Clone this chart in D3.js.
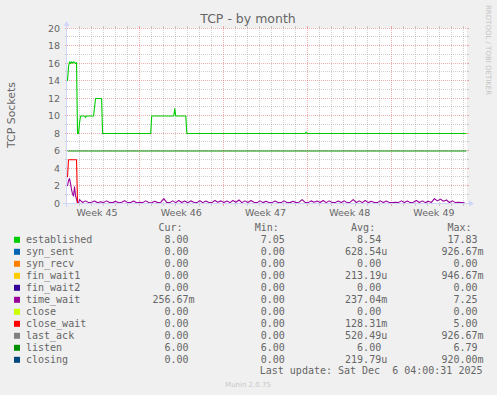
<!DOCTYPE html>
<html>
<head>
<meta charset="utf-8">
<script src="https://cdn.jsdelivr.net/npm/d3@7"></script>
<style>
  body { margin: 0; background: #f0f0f0; }
  svg text { font-family: "DejaVu Sans", sans-serif; fill: #666666; }
  svg text.mono { font-family: "DejaVu Sans Mono", monospace; font-size: 10px; white-space: pre; }
</style>
</head>
<body>
<svg id="chart" width="497" height="395"></svg>
<script>
// legend rows, munin order
var seriesNames = ["established", "syn_sent", "syn_recv", "fin_wait1", "fin_wait2", "time_wait", "close", "close_wait", "last_ack", "listen", "closing"];
var seriesColors = ["#00CC00", "#0066B3", "#FF8000", "#FFCC00", "#330099", "#990099", "#CCFF00", "#FF0000", "#808080", "#008F00", "#00487D"];
var curValues = ["8.00", "0.00", "0.00", "0.00", "0.00", "256.67m", "0.00", "0.00", "0.00", "6.00", "0.00"];
var minValues = ["7.05", "0.00", "0.00", "0.00", "0.00", "0.00", "0.00", "0.00", "0.00", "6.00", "0.00"];
var avgValues = ["8.54", "628.54u", "0.00", "213.19u", "0.00", "237.04m", "0.00", "128.31m", "520.49u", "6.00", "219.79u"];
var maxValues = ["17.83", "926.67m", "0.00", "946.67m", "0.00", "7.25", "0.00", "5.00", "926.67m", "6.79", "920.00m"];
var columnHeads = ["Cur:", "Min:", "Avg:", "Max:"];

// axes
var yTickValues = [0, 2, 4, 6, 8, 10, 12, 14, 16, 18, 20];
var weekLabels = ["Week 45", "Week 46", "Week 47", "Week 48", "Week 49"];
var weekLabelTimes = ["2025-11-05T12:00Z", "2025-11-12T12:00Z", "2025-11-19T12:00Z", "2025-11-26T12:00Z", "2025-12-03T12:00Z"];
var graphStart = "2025-11-03T00:00Z";
var graphEnd = "2025-12-06T06:00Z";
var lastUpdate = "2025-12-06T04:00Z";

// series: [time, value]
var establishedPoints = [
  ["2025-11-03T00:00Z", 14.0], ["2025-11-03T02:00Z", 15.6], ["2025-11-03T04:00Z", 16.2],
  ["2025-11-03T06:00Z", 16.0], ["2025-11-03T08:00Z", 16.2], ["2025-11-03T10:00Z", 16.05],
  ["2025-11-03T12:00Z", 16.2], ["2025-11-03T14:00Z", 16.1], ["2025-11-03T16:00Z", 16.0],
  ["2025-11-03T18:00Z", 16.1], ["2025-11-03T20:00Z", 8.0], ["2025-11-03T22:00Z", 8.0],
  ["2025-11-04T00:00Z", 9.2], ["2025-11-04T02:00Z", 10.0], ["2025-11-04T10:00Z", 10.0],
  ["2025-11-04T12:00Z", 9.85], ["2025-11-04T14:00Z", 10.0], ["2025-11-05T04:00Z", 10.0],
  ["2025-11-05T08:00Z", 12.0], ["2025-11-05T20:00Z", 12.0], ["2025-11-05T22:00Z", 8.0],
  ["2025-11-09T22:00Z", 8.0], ["2025-11-10T00:00Z", 10.0], ["2025-11-11T20:00Z", 10.0],
  ["2025-11-11T22:00Z", 10.85], ["2025-11-12T00:00Z", 10.0], ["2025-11-12T20:00Z", 10.0],
  ["2025-11-12T22:00Z", 8.0], ["2025-11-22T18:00Z", 8.0], ["2025-11-22T20:00Z", 8.15],
  ["2025-11-22T22:00Z", 8.0], ["2025-12-06T04:00Z", 8.0]
];
var listenPoints = [["2025-11-03T00:00Z", 6.0], ["2025-12-06T04:00Z", 6.0]];
var closeWaitPoints = [
  ["2025-11-03T00:00Z", 3.0], ["2025-11-03T02:00Z", 5.0], ["2025-11-03T18:00Z", 5.0],
  ["2025-11-03T20:00Z", 0.0], ["2025-12-06T04:00Z", 0.0]
];
var zeroPoints = [["2025-11-03T00:00Z", 0], ["2025-12-06T04:00Z", 0]];

// time_wait: 2h samples on Nov 3, then 6h samples from Nov 4
var timeWaitHeadStart = "2025-11-03T00:00Z";
var timeWaitHead = [2.0, 2.6, 2.85, 2.3, 1.6, 1.1, 0.85, 1.9, 0.9, 0.5, 0.0, 0.08];
var timeWaitTailStart = "2025-11-04T00:00Z";
var timeWaitTail = [
  0.45, 0.12, 0.30, 0.10,  0.15, 0.28, 0.08, 0.20,  0.10, 0.30, 0.12, 0.10,
  0.25, 0.08, 0.15, 0.32,  0.10, 0.12, 0.28, 0.08,  0.15, 0.10, 0.30, 0.12,
  0.08, 0.25, 0.10, 0.14,  0.55, 0.12, 0.10, 0.30,  0.10, 0.35, 0.12, 0.28,
  0.08, 0.30, 0.15, 0.10,  0.32, 0.10, 0.28, 0.12,  0.10, 0.35, 0.15, 0.30,
  0.12, 0.28, 0.10, 0.35,  0.15, 0.40, 0.10, 0.30,  0.12, 0.35, 0.15, 0.10,
  0.30, 0.10, 0.25, 0.12,  0.10, 0.28, 0.12, 0.10,  0.30, 0.12, 0.10, 0.25,
  0.10, 0.15, 0.45, 0.12,  0.10, 0.30, 0.15, 0.28,  0.12, 0.35, 0.10, 0.30,
  0.12, 0.10, 0.28, 0.12,  0.30, 0.10, 0.15, 0.45,  0.12, 0.30, 0.10, 0.35,
  0.10, 0.25, 0.12, 0.10,  0.30, 0.12, 0.28, 0.10,  0.12, 0.15, 0.10, 0.30,
  0.12, 0.28, 0.10, 0.15,  0.35, 0.12, 0.30, 0.10,  0.25, 0.12, 0.55, 0.30,
  0.50, 0.25, 0.40, 0.12,  0.30, 0.10, 0.15, 0.10,  0.12
];

var svg = d3.select("#chart");
var W = 497, H = 395;
var plot = {left: 67, right: 467, top: 28, bottom: 203};
var charW = 6.02;

svg.append("rect").attr("width", W).attr("height", H).attr("fill", "#f0f0f0");
svg.append("rect").attr("x", plot.left).attr("y", plot.top)
  .attr("width", plot.right - plot.left).attr("height", plot.bottom - plot.top).attr("fill", "#ffffff");

var parse = d3.isoParse;
var xScale = d3.scaleUtc().domain([parse(graphStart), parse(graphEnd)]).range([plot.left, plot.right]);
var yScale = d3.scaleLinear().domain([0, 20]).range([plot.bottom, plot.top]);
var px = v => Math.floor(v) + 0.5;

var minorCol = "rgba(143,143,143,0.42)";
var majorCol = "rgba(222,79,79,0.45)";

//grid
var grid = svg.append("g").attr("class", "grid");
var yMinor = d3.range(0, 21).filter(v => v % 2 !== 0);
grid.selectAll(".hminor").data(yMinor).join("line").attr("class", "hminor")
  .attr("x1", plot.left).attr("x2", plot.right).attr("y1", d => px(yScale(d))).attr("y2", d => px(yScale(d)))
  .attr("stroke", minorCol).attr("stroke-dasharray", "1,1");
grid.selectAll(".hmajor").data(yTickValues).join("line").attr("class", "hmajor")
  .attr("x1", plot.left).attr("x2", plot.right).attr("y1", d => px(yScale(d))).attr("y2", d => px(yScale(d)))
  .attr("stroke", majorCol).attr("stroke-dasharray", "1,1");

var weekStarts = d3.utcSunday.range(xScale.domain()[0], xScale.domain()[1]);
var dayStarts = d3.utcDay.range(xScale.domain()[0], xScale.domain()[1])
  .filter(d => d.getUTCDay() !== 0 && xScale(d) > plot.left + 1);
grid.selectAll(".vminor").data(dayStarts).join("line").attr("class", "vminor")
  .attr("x1", d => px(xScale(d))).attr("x2", d => px(xScale(d))).attr("y1", plot.top).attr("y2", plot.bottom)
  .attr("stroke", minorCol).attr("stroke-dasharray", "1,1");
grid.selectAll(".vmajor").data(weekStarts).join("line").attr("class", "vmajor")
  .attr("x1", d => px(xScale(d))).attr("x2", d => px(xScale(d))).attr("y1", plot.top).attr("y2", plot.bottom)
  .attr("stroke", majorCol).attr("stroke-dasharray", "1,1");

// small tick marks outside the canvas
var ticks = svg.append("g");
[[yMinor, minorCol], [yTickValues, majorCol]].forEach(function(p) {
  ticks.selectAll(null).data(p[0]).join("line")
    .attr("x1", plot.left - 2).attr("x2", plot.left).attr("y1", d => px(yScale(d))).attr("y2", d => px(yScale(d)))
    .attr("stroke", p[1]);
  ticks.selectAll(null).data(p[0]).join("line")
    .attr("x1", plot.right).attr("x2", plot.right + 2).attr("y1", d => px(yScale(d))).attr("y2", d => px(yScale(d)))
    .attr("stroke", p[1]);
});
[[dayStarts, minorCol], [weekStarts, majorCol]].forEach(function(p) {
  ticks.selectAll(null).data(p[0]).join("line")
    .attr("x1", d => px(xScale(d))).attr("x2", d => px(xScale(d))).attr("y1", plot.bottom).attr("y2", plot.bottom + 3)
    .attr("stroke", p[1]);
  ticks.selectAll(null).data(p[0]).join("line")
    .attr("x1", d => px(xScale(d))).attr("x2", d => px(xScale(d))).attr("y1", plot.top - 2).attr("y2", plot.top)
    .attr("stroke", p[1]);
});

//series
var timeWaitPoints = timeWaitHead.map((v, i) => [d3.utcHour.offset(parse(timeWaitHeadStart), 2 * i), v])
  .concat(timeWaitTail.map((v, i) => [d3.utcHour.offset(parse(timeWaitTailStart), 6 * i), v]));
var seriesPoints = {
  established: establishedPoints, time_wait: timeWaitPoints, close_wait: closeWaitPoints, listen: listenPoints
};
var lineGen = d3.line()
  .x(d => xScale(d[0] instanceof Date ? d[0] : parse(d[0])) + 0.5)
  .y(d => yScale(d[1]) + 0.5);
svg.append("g").selectAll("path").data(seriesNames).join("path")
  .attr("d", k => lineGen(seriesPoints[k] || zeroPoints))
  .attr("fill", "none")
  .attr("stroke", (k, i) => seriesColors[i])
  .attr("stroke-width", 1.1)
  .attr("stroke-linejoin", "round");

//axes with arrows
var axisCol = "#CFD6F8";
svg.append("line").attr("x1", plot.left - 4).attr("x2", plot.right + 4)
  .attr("y1", plot.bottom + 0.5).attr("y2", plot.bottom + 0.5).attr("stroke", axisCol);
svg.append("line").attr("x1", plot.left - 0.5).attr("x2", plot.left - 0.5)
  .attr("y1", plot.bottom + 4).attr("y2", plot.top - 4).attr("stroke", axisCol);
svg.append("path").attr("fill", axisCol)
  .attr("d", `M${plot.right + 2},${plot.bottom - 2.5}L${plot.right + 7},${plot.bottom + 0.5}L${plot.right + 2},${plot.bottom + 3.5}Z`);
svg.append("path").attr("fill", axisCol)
  .attr("d", `M${plot.left - 3.5},${plot.top - 2}L${plot.left - 0.5},${plot.top - 7}L${plot.left + 2.5},${plot.top - 2}Z`);

// axis labels
svg.selectAll(".ylab").data(yTickValues).join("text").attr("class", "ylab")
  .attr("x", 60).attr("y", d => yScale(d) + 3.5).attr("text-anchor", "end")
  .attr("font-size", "9.5px").text(d => d);
svg.selectAll(".xlab").data(weekLabels).join("text").attr("class", "xlab")
  .attr("x", (d, i) => xScale(parse(weekLabelTimes[i]))).attr("y", 216).attr("text-anchor", "middle")
  .attr("font-size", "9.5px").text(d => d);

svg.append("text").attr("x", 248).attr("y", 23.3).attr("text-anchor", "middle")
  .attr("font-size", "12.5px").text("TCP - by month");
svg.append("text").attr("transform", "translate(15,115) rotate(-90)").attr("text-anchor", "middle")
  .attr("font-size", "10.9px").text("TCP Sockets");
svg.append("text").attr("transform", "translate(486,5) rotate(90)").attr("text-anchor", "start")
  .attr("font-size", "7px").style("fill", "#c4c4c4").text("RRDTOOL / TOBI OETIKER");

//legend
var legendX = 26, rowY0 = 243.3, rowStep = 12;
var colStart = k => legendX + (21 + 16 * k) * charW;
var fmt = s => { var m = s.match(/^([\d.]+)(\D?)$/); return m[1].padStart(6) + (m[2] || " "); };

svg.selectAll(".head").data(columnHeads).join("text").attr("class", "head mono")
  .attr("x", (d, k) => colStart(k)).attr("y", 231).text(d => " " + d);

var rows = svg.selectAll(".row").data(seriesNames).join("g").attr("class", "row")
  .attr("transform", (d, i) => `translate(0,${rowY0 + rowStep * i})`);
rows.append("rect").attr("x", 14).attr("y", -6.5).attr("width", 6).attr("height", 6)
  .attr("fill", (d, i) => seriesColors[i]);
rows.append("text").attr("class", "mono").attr("x", legendX).attr("y", 0).text(d => d);
[curValues, minValues, avgValues, maxValues].forEach(function(vals, k) {
  rows.append("text").attr("class", "mono").attr("x", colStart(k)).attr("y", 0).text((d, i) => fmt(vals[i]));
});

svg.append("text").attr("class", "mono").attr("x", 482.5).attr("y", 373.5).attr("text-anchor", "end")
  .text("Last update: Sat Dec  6 04:00:31 2025");
svg.append("text").attr("x", 248).attr("y", 386.7).attr("text-anchor", "middle")
  .attr("font-size", "7px").style("fill", "#c8c8c8").text("Munin 2.0.75");
</script>
</body>
</html>
